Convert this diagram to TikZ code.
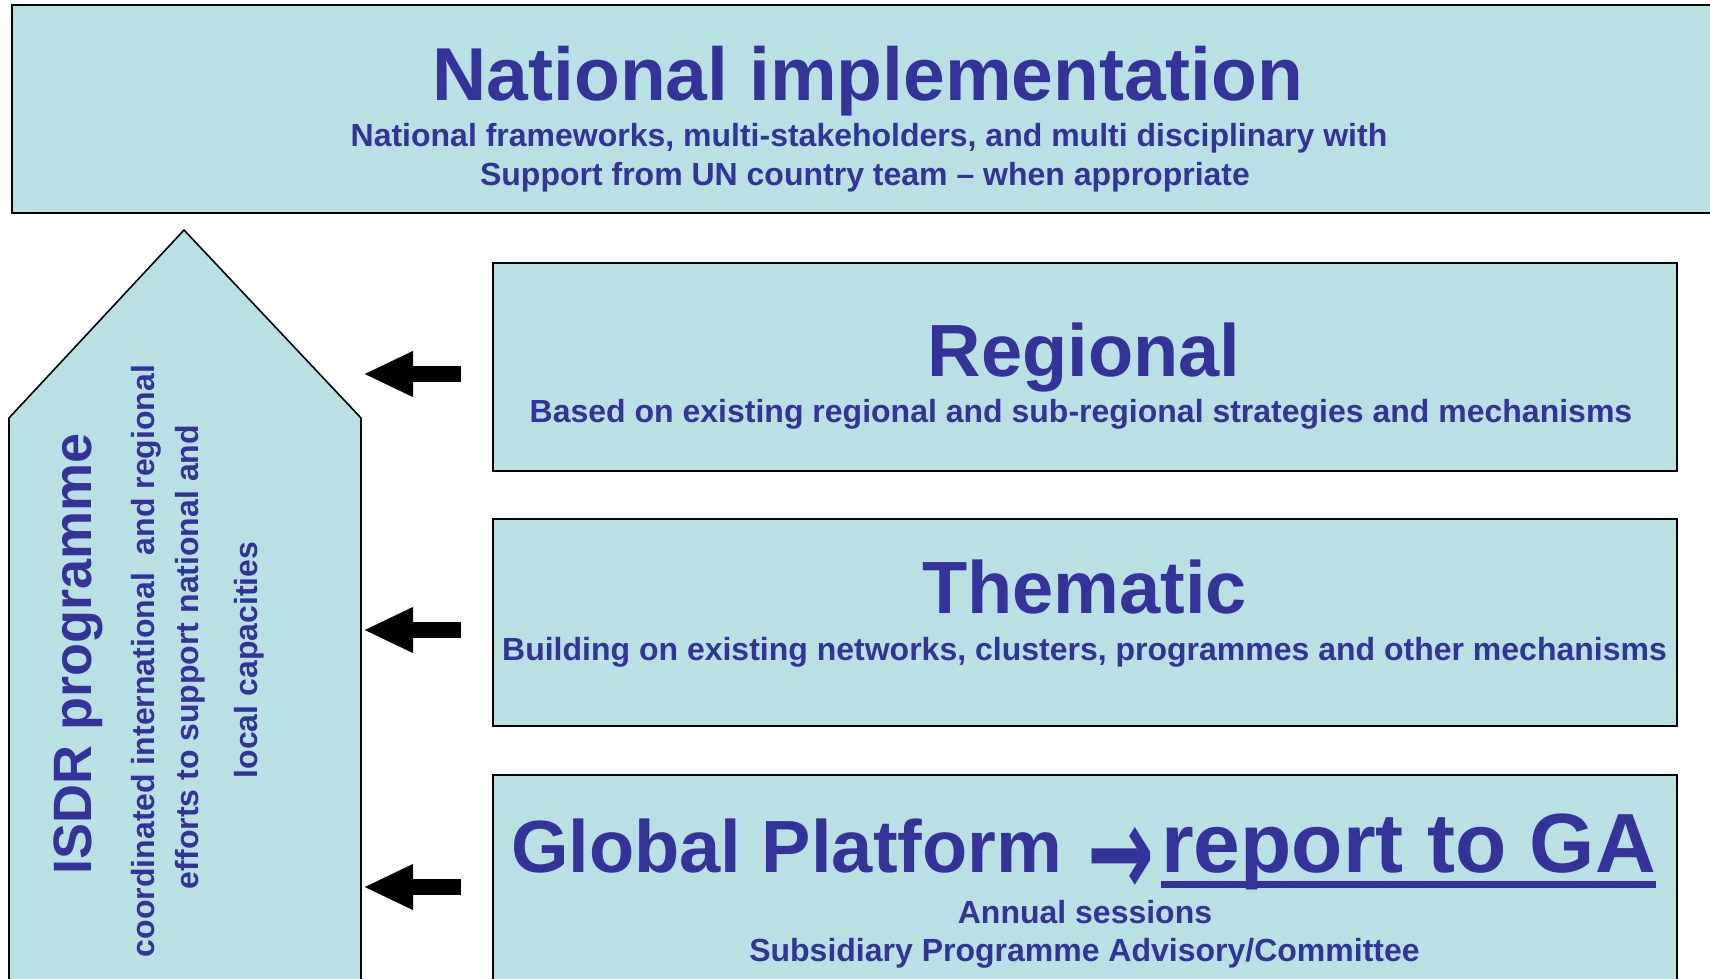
\documentclass[tikz,border=0pt]{standalone}
\usepackage{fontspec}
\setmainfont{Liberation Sans}
\newfontfamily\arrowfont{DejaVu Sans}
\usetikzlibrary{arrows.meta}
\definecolor{boxfill}{HTML}{B9E0E3}
\definecolor{txt}{HTML}{333399}
\begin{document}
\begin{tikzpicture}[x=1pt,y=-1pt,
  box/.style={draw=black, line width=2pt, fill=boxfill, rectangle, inner sep=0pt, outer sep=0pt},
  title/.style={text=txt, font=\bfseries\fontsize{74}{80}\selectfont, inner sep=0pt, anchor=base},
  sub/.style={text=txt, font=\bfseries\fontsize{32}{38}\selectfont, inner sep=0pt, anchor=base},
  blockarrow/.style={line width=16pt, -{Triangle[length=48pt,width=46pt,line width=0.1pt]}}
]
\clip (0,0) rectangle (1710,978);
\fill[white] (0,0) rectangle (1710,978);

% top box
\node[box, minimum width=1718pt, minimum height=208pt] (nat) at (871,109) {};
\node[title, font=\bfseries\fontsize{75}{80}\selectfont] (natT) at (868,100) {National implementation};
\node[sub] (natS1) at (869,146) {National frameworks, multi-stakeholders, and multi disciplinary with};
\node[sub] (natS2) at (865,185) {Support from UN country team – when appropriate};

% pentagon
\draw[draw=black, line width=1.6pt, fill=boxfill, line join=miter] (9,418) -- (184,230) -- (361,418) -- (361,1010) -- (9,1010) -- cycle;
\node[sub, rotate=90, font=\bfseries\fontsize{54}{60}\selectfont] (isdr) at (91,654) {ISDR programme};
\node[sub, rotate=90] (p1) at (154,661) {coordinated international\ \ and regional};
\node[sub, rotate=90] (p2) at (198,657) {efforts to support national and};
\node[sub, rotate=90] (p3) at (257,660) {local capacities};

% regional
\node[box, minimum width=1184pt, minimum height=208pt] (reg) at (1085,367) {};
\node[title] (regT) at (1084,376) {Regional};
\node[sub] (regS) at (1081,422) {Based on existing regional and sub-regional strategies and mechanisms};

% thematic
\node[box, minimum width=1184pt, minimum height=207pt] (the) at (1085,622.5) {};
\node[title] (theT) at (1084.5,613) {Thematic};
\node[sub] (theS) at (1084.5,660) {Building on existing networks, clusters, programmes and other mechanisms};

% global
\node[box, minimum width=1184pt, minimum height=240pt] (glo) at (1085,895) {};
\node[title, anchor=base west] (gpT) at (511,872) {Global Platform};
\node[text=txt, inner sep=0pt, yscale=1.6, transform shape, font=\arrowfont\bfseries\fontsize{80}{84}\selectfont] (arr) at (1121,862) {→};
\node[title, anchor=base west, font=\bfseries\fontsize{84}{90}\selectfont] (rep) at (1161,872) {report to GA};
\draw[txt, line width=7pt] ([yshift=-12pt]rep.base west) -- ([yshift=-12pt]rep.base east);
\node[sub] (ann) at (1085,923) {Annual sessions};
\node[sub] (spa) at (1084.5,961) {Subsidiary Programme Advisory/Committee};

% arrows
\coordinate (a1s) at (461,374); \coordinate (a1e) at (365,374);
\coordinate (a2s) at (461,630); \coordinate (a2e) at (365,630);
\coordinate (a3s) at (461,887); \coordinate (a3e) at (365,887);
\draw[blockarrow] (a1s) -- (a1e);
\draw[blockarrow] (a2s) -- (a2e);
\draw[blockarrow] (a3s) -- (a3e);
\end{tikzpicture}
\end{document}
